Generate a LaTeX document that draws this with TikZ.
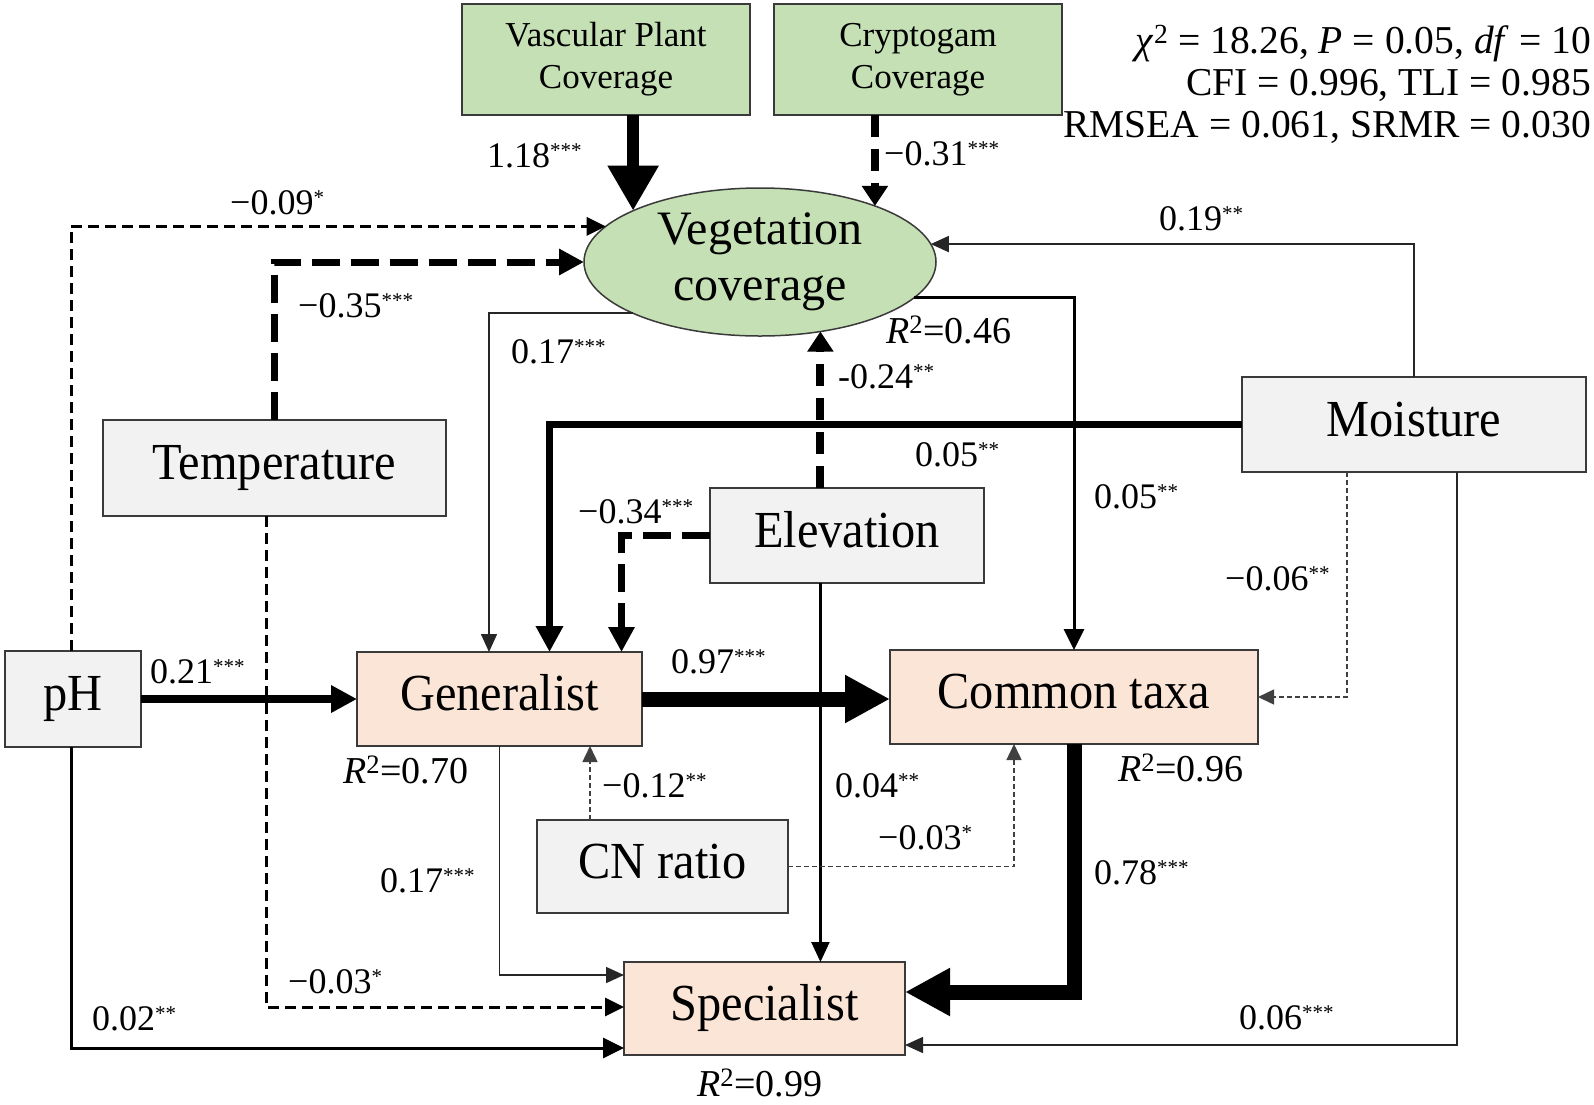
\documentclass[tikz,border=0pt]{standalone}
\usepackage{fontspec}
\setmainfont{Liberation Serif}
\newfontfamily\condserif[FakeStretch=0.93]{Liberation Serif}
\usetikzlibrary{arrows.meta,shapes.geometric}
\definecolor{vgreen}{HTML}{C5E0B4}
\definecolor{vpeach}{HTML}{FBE5D6}
\definecolor{vgray}{HTML}{F2F2F2}
\definecolor{vborder}{HTML}{3A3A3A}
\newcommand\sg[1]{\textsuperscript{\fontsize{21}{21}\selectfont #1}}
\begin{document}
\begin{tikzpicture}[x=1pt,y=-1pt,
  box/.style={draw=vborder, line width=1.8pt, inner sep=0pt, outer sep=0pt,
    font=\condserif\fontsize{52}{58}\selectfont, text height=34pt, text depth=11pt},
  gbox/.style={box, fill=vgray},
  pbox/.style={box, fill=vpeach},
  tbox/.style={draw=vborder, line width=1.8pt, inner sep=0pt, outer sep=0pt,
    fill=vgreen, align=center, font=\fontsize{35}{42}\selectfont},
  lab/.style={anchor=base west, inner sep=0pt, font=\fontsize{36}{40}\selectfont},
  rlab/.style={anchor=base west, inner sep=0pt, font=\fontsize{38}{40}\selectfont},
  stat/.style={anchor=base east, inner sep=0pt, font=\fontsize{39.5}{42}\selectfont},
  aA/.style={line width=1.6pt, draw=black!85, -{Triangle[length=18pt,width=16pt]}},
  aB/.style={line width=2.2pt, -{Triangle[length=20pt,width=18pt]}},
  aC/.style={line width=3pt, -{Triangle[length=21pt,width=20pt]}},
  aD/.style={line width=7.5pt, -{Triangle[length=26pt,width=26pt]}},
  aE/.style={line width=12pt, -{Triangle[length=45pt,width=48pt]}},
  aF/.style={line width=15pt, -{Triangle[length=45pt,width=45pt]}},
  dA/.style={line width=1.5pt, draw=black!75, dash pattern=on 5pt off 3pt, -{Triangle[length=16pt,width=15pt]}},
  dC/.style={line width=3pt, dash pattern=on 11pt off 6pt, -{Triangle[length=19pt,width=18pt]}},
  dD/.style={line width=7pt, dash pattern=on 28pt off 11pt, -{Triangle[length=25pt,width=25pt]}},
  dE/.style={line width=8pt, dash pattern=on 22pt off 12pt, -{Triangle[length=20pt,width=25pt]}},
]
\useasboundingbox (0,0) rectangle (1594,1104);

% nodes
\node[tbox, minimum width=288pt, minimum height=111pt] (vasc) at (606,59.5) {Vascular Plant\\Coverage};
\node[tbox, minimum width=288pt, minimum height=111pt] (crypt) at (918,59.5) {Cryptogam\\Coverage};
\node[draw=vborder, line width=1.5pt, fill=vgreen, ellipse, minimum width=352pt, minimum height=148pt,
  inner sep=0pt, outer sep=0pt, align=center, font=\fontsize{48}{56}\selectfont] (veg) at (760,262) {Vegetation\\coverage};
\node[gbox, minimum width=343pt, minimum height=96pt] (temp) at (274.5,468) {Temperature};
\node[gbox, minimum width=344pt, minimum height=95pt] (moist) at (1414,424.5) {Moisture};
\node[gbox, minimum width=274pt, minimum height=95pt] (elev) at (847,535.5) {Elevation};
\node[gbox, minimum width=136pt, minimum height=96pt] (ph) at (73,699) {pH};
\node[gbox, minimum width=251pt, minimum height=93pt] (cn) at (662.5,866.5) {CN ratio};
\node[pbox, minimum width=285pt, minimum height=94pt] (gen) at (499.5,699) {Generalist};
\node[pbox, minimum width=368pt, minimum height=94pt] (com) at (1074,697) {Common taxa};
\node[pbox, minimum width=281pt, minimum height=93pt] (spec) at (764.5,1008.5) {Specialist};

% fit statistics
\node[stat] (fit1) at (1591,53) {\textit{χ}\textsuperscript{2} = 18.26, \textit{P} = 0.05, \textit{df} = 10};
\node[stat] (fit2) at (1591,95) {CFI = 0.996, TLI = 0.985};
\node[stat] (fit3) at (1591,137) {RMSEA = 0.061, SRMR = 0.030};

% connectors
\draw[aE] (vasc.south -| veg.158) -- (veg.158);
\draw[dE] (crypt.south -| veg.26) -- (veg.26);
\draw[dC] ([xshift=-2pt]ph.north) |- (veg.167);
\draw[dD] (temp.north) |- (veg.west);
\draw[aA] (moist.north) |- (veg.6);
\draw[aA] (veg.202) -| ([xshift=-10.5pt]gen.north);
\draw[aC] (veg.347) -| (com.north);
\draw[aD] (moist.west) -| ([xshift=50pt]gen.north);
\draw[dE] (elev.north -| veg.311) -- (veg.311);
\draw[dD] (elev.west) -| ([xshift=122pt]gen.north);
\draw[aB] (elev.south -| veg.311) -- (spec.north -| veg.311);
\draw[aD] (ph.east) -- (gen.west);
\draw[aF] (gen.east) -- (gen.east -| com.west);
\draw[dA] ([xshift=-67pt]moist.south) |- (com.east);
\draw[aA] ([xshift=43pt]moist.south) |- ([yshift=-36.5pt]spec.east);
\draw[aF] (com.south) |- ([yshift=16.5pt]spec.east);
\draw[dA] ([xshift=-72.5pt]cn.north) -- ([xshift=-72.5pt]cn.north |- gen.south);
\draw[dA] (cn.east) -| ([xshift=-60pt]com.south);
\draw[aA] (gen.south) |- ([yshift=33.5pt]spec.west);
\draw[dC] ([xshift=-8.5pt]temp.south) |- ([yshift=1.5pt]spec.west);
\draw[aC] ([xshift=-2pt]ph.south) |- ([yshift=-39.5pt]spec.west);

% labels
\node[lab] (l1) at (487,167) {1.18\sg{***}};
\node[lab] (l2) at (884,165) {−0.31\sg{***}};
\node[lab] (l3) at (230,214) {−0.09\sg{*}};
\node[lab] (l4) at (298,317) {−0.35\sg{***}};
\node[lab] (l5) at (1159,230) {0.19\sg{**}};
\node[lab] (l6) at (511,363) {0.17\sg{***}};
\node[rlab] (r1) at (886,343) {\textit{R}\textsuperscript{2}=0.46};
\node[lab] (l7) at (838,388) {-0.24\sg{**}};
\node[lab] (l8) at (915,466) {0.05\sg{**}};
\node[lab] (l9) at (1094,508) {0.05\sg{**}};
\node[lab] (l10) at (578,523) {−0.34\sg{***}};
\node[lab] (l11) at (1225,590) {−0.06\sg{**}};
\node[lab] (l12) at (150,683) {0.21\sg{***}};
\node[lab] (l13) at (671,673) {0.97\sg{***}};
\node[rlab] (r2) at (343,783) {\textit{R}\textsuperscript{2}=0.70};
\node[lab] (l14) at (602,797) {−0.12\sg{**}};
\node[lab] (l15) at (835,797) {0.04\sg{**}};
\node[rlab] (r3) at (1118,781) {\textit{R}\textsuperscript{2}=0.96};
\node[lab] (l16) at (878,849) {−0.03\sg{*}};
\node[lab] (l17) at (380,892) {0.17\sg{***}};
\node[lab] (l18) at (1094,884) {0.78\sg{***}};
\node[lab] (l19) at (288,993) {−0.03\sg{*}};
\node[lab] (l20) at (92,1030) {0.02\sg{**}};
\node[lab] (l21) at (1239,1029) {0.06\sg{***}};
\node[rlab] (r4) at (697,1096) {\textit{R}\textsuperscript{2}=0.99};
\end{tikzpicture}
\end{document}
